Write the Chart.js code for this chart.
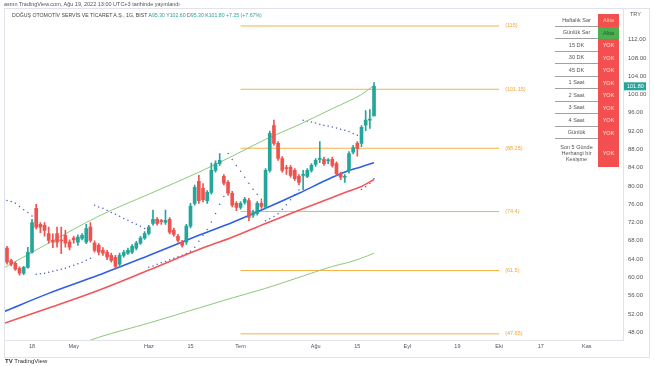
<!DOCTYPE html>
<html><head><meta charset="utf-8">
<script src="https://cdn.jsdelivr.net/npm/chart.js@4.4.0/dist/chart.umd.min.js"></script>
<style>
html,body{margin:0;padding:0;background:#fff;width:654px;height:366px;overflow:hidden;font-family:"Liberation Sans","DejaVu Sans",sans-serif;}
#wrap{position:relative;width:654px;height:366px;}
canvas{position:absolute;left:0;top:0;}
.t{position:absolute;white-space:nowrap;line-height:1;}
#frame{position:absolute;left:4px;top:8px;width:646px;height:350px;border:1px solid #e0e3eb;box-sizing:border-box;pointer-events:none;}
.row{position:absolute;left:553px;width:67px;height:12.5px;}
.lab{position:absolute;left:2px;width:43px;top:0;height:100%;font-size:5.5px;color:#555;text-align:center;box-sizing:border-box;border-bottom:1px solid #a0a0a0;display:flex;align-items:center;justify-content:center;line-height:1.15;}
.val{position:absolute;left:45px;width:21px;top:0;height:100%;font-size:5.5px;text-align:center;display:flex;align-items:center;justify-content:center;}
</style></head><body>
<div id="wrap">
<canvas id="c" width="654" height="366"></canvas>
<div id="frame"></div>
<div class="t" style="left:4px;top:2px;font-size:5.5px;color:#555;">asmn TradingView.com, Ağu 19, 2022 13:00 UTC+3 tarihinde yayınlandı</div>
<div class="t" id="hdr" style="left:12px;top:13px;font-size:5.2px;color:#444;"></div>
<div class="t" style="left:630px;top:12px;font-size:5.5px;color:#555;">TRY</div>
<div class="t" style="left:5px;top:358px;font-size:6px;color:#333;"><b style="font-size:6px;">TV</b> TradingView</div>
<div id="tbl"></div>
</div>
<script>
// ---- data ----
const openP  = [66.4,63.7,63.1,62.0,60.9,62.2,65.5,75.1,71.6,71.4,69.6,68.1,69.6,68.2,69.2,67.7,68.6,67.7,68.5,67.7,71.0,67.5,67.0,65.9,65.5,64.8,64.4,62.9,64.8,65.3,65.5,66.4,67.5,68.6,69.6,71.8,72.7,72.3,72.0,72.7,70.3,69.0,67.7,67.7,71.2,76.2,81.0,79.5,76.8,78.6,83.4,84.9,82.1,80.8,78.4,76.2,75.3,76.4,76.8,73.6,74.0,76.2,75.3,83.4,93.2,89.3,86.0,83.9,84.1,83.4,82.1,82.3,82.1,83.4,84.7,85.8,85.8,85.5,85.8,84.9,82.7,81.9,83.4,87.4,89.3,89.3,93.3,94.4,95.3];
const highP  = [66.8,64.0,63.4,62.3,62.4,66.6,72.7,76.0,72.0,72.0,71.0,69.5,71.0,71.0,70.3,68.2,69.0,69.3,69.6,71.6,72.0,68.0,67.4,66.5,65.9,65.3,64.8,65.3,65.9,66.4,67.2,67.9,69.0,70.0,71.4,74.7,73.1,72.7,74.7,73.1,70.8,69.4,68.1,71.6,76.2,80.2,82.3,80.5,79.0,85.0,85.5,87.1,82.5,81.2,78.8,76.6,76.6,77.5,77.3,74.7,76.6,76.8,83.8,92.0,94.4,89.7,86.4,84.5,84.5,83.8,82.5,83.4,83.8,84.9,86.0,89.7,86.3,86.0,86.3,85.3,83.0,82.5,87.5,88.9,89.7,93.2,96.5,96.7,102.6];
const lowP   = [62.9,62.5,61.5,60.5,60.6,62.0,65.3,70.6,69.8,69.0,67.5,66.5,66.6,65.2,66.6,66.0,67.5,67.0,68.2,67.4,67.7,65.5,64.9,64.8,63.9,63.3,62.0,62.2,64.4,65.0,65.2,66.0,67.2,68.3,69.3,71.4,71.4,71.6,71.6,69.5,69.0,67.7,66.6,67.2,70.8,75.8,76.2,76.5,76.2,78.2,83.0,84.5,80.2,78.0,75.4,74.6,74.9,76.0,72.4,73.1,73.6,75.1,75.0,83.0,88.9,85.6,83.0,82.5,81.9,81.2,80.2,79.2,81.8,83.0,84.3,85.1,84.5,84.9,84.1,82.3,81.4,80.8,82.8,87.0,86.5,88.6,92.1,92.6,95.3];
const closeP = [63.3,62.9,61.8,60.9,62.2,65.5,72.0,71.0,71.0,70.3,68.1,67.7,67.7,68.0,67.5,66.6,68.2,68.8,69.2,70.7,68.1,65.9,65.5,65.3,64.4,63.7,62.4,64.8,65.5,65.9,66.8,67.5,68.6,69.6,71.0,72.7,71.8,72.2,72.5,69.9,69.4,68.1,67.0,71.2,75.6,79.7,76.8,77.0,78.6,83.4,84.9,85.6,80.6,78.4,75.8,75.3,76.2,77.1,73.1,74.2,76.2,75.5,83.4,91.5,89.3,86.0,83.4,83.8,82.3,81.6,80.8,82.4,83.4,84.5,85.6,85.9,84.9,85.6,84.5,82.7,81.9,82.0,87.1,88.4,88.2,92.8,94.4,94.55,101.8];
const sarP   = [76.8,76.6,76.2,75.5,74.8,74.2,73.4,60.7,60.8,60.9,61.1,61.35,61.55,61.8,62.0,62.3,62.65,63.0,63.3,63.75,64.2,75.8,75.4,75.1,74.7,74.2,73.8,73.35,72.9,72.5,72.0,71.6,71.2,70.7,62.2,62.5,62.85,63.2,63.5,63.85,64.2,64.5,64.85,65.2,65.7,66.6,67.9,69.2,70.5,72.1,74.0,76.0,77.7,87.1,85.8,84.5,83.2,81.9,80.6,79.3,78.2,77.1,72.4,72.8,73.3,73.9,74.9,75.9,77.0,78.1,79.1,94.4,94.2,94.0,93.8,93.5,93.3,93.1,92.9,92.7,92.4,92.2,91.9,91.5,91.1,79.2,79.8,80.6,81.6];
// moving-average style lines, read at bar positions
const maIdx      = [-0.5, 10, 22, 34, 46, 54, 62, 70, 78, 82, 85, 88];
const blueMA     = [52.6, 56.5, 60.5, 64.8, 69.2, 72.0, 75.1, 78.4, 81.9, 83.4, 84.2, 85.1];
const redMA      = [50.0, 53.3, 57.2, 61.6, 66.1, 68.8, 71.8, 74.7, 77.5, 78.9, 79.9, 81.4];
const upperGreen = [62.2, 67.5, 73.4, 78.2, 83.0, 86.5, 90.2, 93.4, 96.9, 98.6, 100.0, 102.0];
const lowIdx     = [18, 22, 34, 46, 54, 62, 70, 78, 82, 85, 88];
const lowerGreen = [45.6, 46.9, 50.0, 53.3, 55.5, 57.6, 60.0, 62.4, 63.3, 64.2, 65.3];
// fibonacci levels
const fibLevels = [115, 101.15, 88.25, 74.4, 61.5, 47.65];
const fibLabels = ['(115)', '(101.15)', '(88.25)', '(74.4)', '(61.5)', '(47.65)'];
const fibStart = 56, fibEnd = 118;
// axes
const timeTickIdx = [6, 16, 34, 44, 56, 74, 84, 96, 108, 118, 128, 139];
const timeTickLabels = ['18', 'May', 'Haz', '15', 'Tem', 'Ağu', '15', 'Eyl', '19', 'Eki', '17', 'Kas'];
const priceTicks = [48,52,56,60,64,68,72,76,80,84,88,92,96,100,104,108,112];
// table
const tableLabels = ['Haftalık Sar','Günlük Sar','15 DK','30 DK','45 DK','1 Saat','2 Saat','3 Saat','4 Saat','Günlük','Son 5 Günde Herhangi bir Kesişme'];
const tableValues = ['Altta','Altta','YOK','YOK','YOK','YOK','YOK','YOK','YOK','YOK','YOK'];
const tableOk     = [false, true, false, false, false, false, false, false, false, false, false];
// header
const header = {name:'DOĞUŞ OTOMOTİV SERVİS VE TİCARET A.Ş., 1G, BIST', o:'95.30', h:'102.60', l:'95.30', c:'101.80', chg:'+7.25 (+7.67%)'};

// ---- header & table DOM ----
const UP = '#26a69a', DN = '#ef5350';
document.getElementById('hdr').innerHTML = header.name +
  ' <span style="color:#666">A</span><span style="color:'+UP+'">'+header.o+'</span>' +
  ' <span style="color:#666">Y</span><span style="color:'+UP+'">'+header.h+'</span>' +
  ' <span style="color:#666">D</span><span style="color:'+UP+'">'+header.l+'</span>' +
  ' <span style="color:#666">K</span><span style="color:'+UP+'">'+header.c+'</span>' +
  ' <span style="color:'+UP+'">'+header.chg+'</span>';
const tbl = document.getElementById('tbl');
let rowTop = 14;
tableLabels.forEach((lab, i) => {
  const h = i === tableLabels.length - 1 ? 28 : 12.5;
  const r = document.createElement('div');
  r.className = 'row'; r.style.top = rowTop + 'px'; r.style.height = h + 'px';
  const a = document.createElement('div'); a.className = 'lab'; a.textContent = lab;
  if (i === tableLabels.length - 1) a.style.borderBottom = 'none';
  const b = document.createElement('div'); b.className = 'val'; b.textContent = tableValues[i];
  b.style.background = tableOk[i] ? '#4caf50' : '#f44f4f';
  b.style.color = tableOk[i] ? '#1b5e20' : (i === 0 ? '#ffd0a0' : '#ffe3e3');
  r.appendChild(a); r.appendChild(b); tbl.appendChild(r);
  rowTop += h;
});

// ---- chart ----
const n = closeP.length;
const idx = Array.from({length: n}, (_, i) => i);
const candleCol = idx.map(i => closeP[i] >= openP[i] ? UP : DN);

const fibSets = fibLevels.map(lv => ({
  type: 'line', data: [{x: fibStart, y: lv}, {x: fibEnd, y: lv}],
  borderColor: '#f7b24a', borderWidth: 1, pointRadius: 0, order: 5
}));

const overlay = {
  id: 'overlay',
  afterDatasetsDraw(chart) {
    const {ctx, scales: {x, y}} = chart;
    ctx.save();
    ctx.font = '5.5px "Liberation Sans", sans-serif';
    ctx.fillStyle = '#f2a43a';
    ctx.textBaseline = 'middle';
    fibLevels.forEach((lv, i) => {
      ctx.fillText(fibLabels[i], x.getPixelForValue(fibEnd) + 6, y.getPixelForValue(lv));
    });
    ctx.restore();
  },
  afterDraw(chart) {
    const {ctx, scales: {y}, chartArea} = chart;
    const last = closeP[n - 1];
    const py = y.getPixelForValue(last);
    ctx.save();
    ctx.fillStyle = UP;
    ctx.fillRect(chartArea.right + 1, py - 4, 22, 8);
    ctx.fillStyle = '#fff';
    ctx.font = '5.5px "Liberation Sans", sans-serif';
    ctx.textBaseline = 'middle';
    ctx.fillText(last.toFixed(2), chartArea.right + 4, py + 0.5);
    ctx.restore();
  }
};

new Chart(document.getElementById('c'), {
  type: 'line',
  data: {
    datasets: [
      { type: 'bar', data: idx.map(i => ({x: i, y: [lowP[i], highP[i]]})), backgroundColor: candleCol,
        barThickness: 1, grouped: false, order: 2 },
      { type: 'bar', data: idx.map(i => ({x: i, y: [openP[i], closeP[i]]})), backgroundColor: candleCol,
        barThickness: 3, minBarLength: 1, grouped: false, order: 1 },
      { type: 'line', data: maIdx.map((v, i) => ({x: v, y: blueMA[i]})), borderColor: '#2f5fe8', borderWidth: 1.6,
        pointRadius: 0, cubicInterpolationMode: 'monotone', order: 3 },
      { type: 'line', data: maIdx.map((v, i) => ({x: v, y: redMA[i]})), borderColor: '#f0565a', borderWidth: 1.6,
        pointRadius: 0, cubicInterpolationMode: 'monotone', order: 3 },
      { type: 'line', data: maIdx.map((v, i) => ({x: v, y: upperGreen[i]})), borderColor: '#8cc97a', borderWidth: 1,
        pointRadius: 0, cubicInterpolationMode: 'monotone', order: 3 },
      { type: 'line', data: lowIdx.map((v, i) => ({x: v, y: lowerGreen[i]})), borderColor: '#8cc97a', borderWidth: 1,
        pointRadius: 0, cubicInterpolationMode: 'monotone', order: 3 },
      { type: 'line', data: idx.map(i => ({x: i, y: sarP[i]})), showLine: false, pointRadius: 0.75,
        pointBackgroundColor: '#4a5cc4', pointBorderWidth: 0, order: 4 },
      ...fibSets
    ]
  },
  options: {
    responsive: false, animation: false, devicePixelRatio: 1,
    layout: {padding: {left: 5, top: 8, right: 0, bottom: 0}},
    plugins: {legend: {display: false}, tooltip: {enabled: false}},
    scales: {
      x: {
        type: 'linear', min: -0.48, max: 147.7, offset: false,
        grid: {display: false, drawTicks: false},
        border: {display: true, color: '#e0e3eb'},
        afterBuildTicks: s => { s.ticks = timeTickIdx.map(v => ({value: v})); },
        afterFit: s => { s.height = 26; },
        ticks: {autoSkip: false, maxRotation: 0, padding: 3, color: '#555',
          font: {size: 5.5, family: '"Liberation Sans", sans-serif'},
          callback: v => timeTickLabels[timeTickIdx.indexOf(v)] }
      },
      y: {
        type: 'linear', position: 'right', min: 46.3, max: 118.8,
        grid: {display: false, drawTicks: false},
        border: {display: true, color: '#e0e3eb'},
        afterBuildTicks: s => { s.ticks = priceTicks.map(v => ({value: v})); },
        afterFit: s => { s.width = 31; },
        ticks: {padding: 5, color: '#555', font: {size: 6, family: '"Liberation Sans", sans-serif'},
          callback: v => v.toFixed(2)}
      }
    }
  },
  plugins: [overlay]
});
</script>
</body></html>
